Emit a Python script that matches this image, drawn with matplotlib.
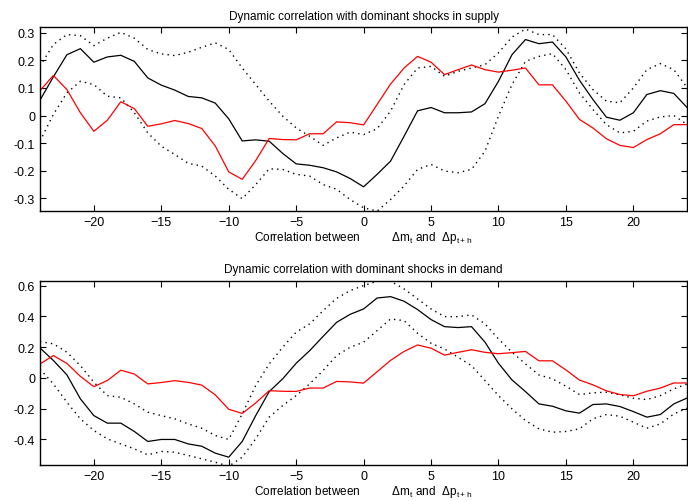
import numpy as np
import matplotlib
matplotlib.use("Agg")
import matplotlib.pyplot as plt

plt.rcParams['font.family'] = ['Liberation Sans Narrow', 'Liberation Sans', 'DejaVu Sans']
plt.rcParams['mathtext.fontset'] = 'custom'
plt.rcParams['mathtext.rm'] = 'Liberation Sans Narrow'
plt.rcParams['mathtext.default'] = 'regular'

lags = np.arange(-24, 25)

# red series (same in both panels)
red = [0.09, 0.145, 0.094, 0.01, -0.057, -0.017, 0.05, 0.025, -0.039, -0.03,
       -0.018, -0.029, -0.047, -0.11, -0.204, -0.231, -0.163, -0.083, -0.087, -0.088,
       -0.066, -0.066, -0.023, -0.026, -0.034, 0.04, 0.114, 0.172, 0.214, 0.193,
       0.148, 0.166, 0.183, 0.166, 0.157, 0.164, 0.172, 0.111, 0.111, 0.052,
       -0.014, -0.045, -0.084, -0.108, -0.116, -0.087, -0.066, -0.033, -0.033]

# supply shocks
sup_mid = [0.055, 0.14, 0.22, 0.242, 0.193, 0.212, 0.218, 0.196, 0.136, 0.11,
           0.092, 0.069, 0.064, 0.045, -0.012, -0.092, -0.088, -0.093, -0.137, -0.175,
           -0.18, -0.189, -0.204, -0.228, -0.258, -0.213, -0.165, -0.075, 0.017, 0.029,
           0.01, 0.01, 0.013, 0.043, 0.124, 0.22, 0.275, 0.26, 0.266, 0.212,
           0.128, 0.058, -0.006, -0.017, 0.01, 0.076, 0.09, 0.08, 0.028]
sup_hi = [0.178, 0.257, 0.293, 0.289, 0.253, 0.28, 0.301, 0.28, 0.239, 0.223,
          0.217, 0.229, 0.247, 0.263, 0.239, 0.172, 0.112, 0.052, -0.002, -0.045,
          -0.075, -0.108, -0.081, -0.06, -0.069, -0.048, 0.016, 0.112, 0.172, 0.178,
          0.142, 0.16, 0.172, 0.184, 0.227, 0.284, 0.313, 0.293, 0.293, 0.241,
          0.154, 0.094, 0.052, 0.046, 0.1, 0.166, 0.188, 0.166, 0.1]
sup_lo = [-0.093, 0.004, 0.082, 0.124, 0.112, 0.07, 0.064, 0.01, -0.063, -0.111,
          -0.141, -0.173, -0.183, -0.219, -0.267, -0.301, -0.25, -0.193, -0.195, -0.213,
          -0.219, -0.25, -0.267, -0.304, -0.334, -0.346, -0.304, -0.255, -0.195, -0.177,
          -0.201, -0.207, -0.195, -0.129, -0.002, 0.112, 0.196, 0.214, 0.224, 0.166,
          0.082, 0.022, -0.033, -0.063, -0.057, -0.02, -0.005, 0.0, -0.033]

# demand shocks
dem_mid = [0.195, 0.113, 0.02, -0.136, -0.245, -0.294, -0.294, -0.348, -0.413, -0.4,
           -0.4, -0.429, -0.444, -0.489, -0.515, -0.413, -0.245, -0.089, -0.006, 0.095,
           0.177, 0.27, 0.361, 0.413, 0.448, 0.519, 0.528, 0.498, 0.444, 0.379,
           0.333, 0.327, 0.333, 0.232, 0.095, -0.013, -0.089, -0.169, -0.184, -0.214,
           -0.229, -0.173, -0.169, -0.186, -0.219, -0.255, -0.238, -0.169, -0.13]
dem_hi = [0.236, 0.221, 0.167, 0.08, -0.028, -0.115, -0.126, -0.169, -0.223, -0.245,
          -0.266, -0.299, -0.327, -0.374, -0.4, -0.234, -0.05, 0.091, 0.199, 0.297,
          0.351, 0.437, 0.517, 0.567, 0.6, 0.628, 0.628, 0.578, 0.513, 0.448,
          0.398, 0.398, 0.409, 0.351, 0.253, 0.167, 0.091, 0.019, -0.006, -0.054,
          -0.108, -0.097, -0.093, -0.11, -0.132, -0.141, -0.115, -0.071, -0.039]
dem_lo = [0.058, -0.039, -0.158, -0.266, -0.342, -0.396, -0.429, -0.461, -0.5, -0.478,
          -0.483, -0.504, -0.526, -0.548, -0.574, -0.515, -0.396, -0.255, -0.18, -0.115,
          -0.039, 0.048, 0.145, 0.199, 0.232, 0.307, 0.383, 0.372, 0.29, 0.225,
          0.188, 0.134, 0.08, -0.017, -0.115, -0.201, -0.277, -0.331, -0.353, -0.348,
          -0.331, -0.266, -0.238, -0.249, -0.288, -0.327, -0.299, -0.234, -0.197]

xlab = r'Correlation between          $\Delta m_t$ and  $\Delta p_{t+h}$'

fig = plt.figure(figsize=(6.88, 5.02), dpi=100)
ax1 = fig.add_axes([0.058, 0.578, 0.941, 0.366])
ax2 = fig.add_axes([0.058, 0.072, 0.941, 0.367])

panels = [
    (ax1, sup_mid, sup_hi, sup_lo, 'Dynamic correlation with dominant shocks in supply',
     (-0.345, 0.32), [-0.3, -0.2, -0.1, 0, 0.1, 0.2, 0.3]),
    (ax2, dem_mid, dem_hi, dem_lo, 'Dynamic correlation with dominant shocks in demand',
     (-0.565, 0.632), [-0.4, -0.2, 0, 0.2, 0.4, 0.6]),
]

for ax, mid, hi, lo, title, ylim, yt in panels:
    ax.plot(lags, hi, color='black', linestyle=(0, (1, 3)), linewidth=1.0)
    ax.plot(lags, lo, color='black', linestyle=(0, (1, 3)), linewidth=1.0)
    ax.plot(lags, mid, color='black', linewidth=0.9)
    ax.plot(lags, red, color='red', linewidth=0.9)
    ax.set_xlim(-24, 24)
    ax.set_ylim(*ylim)
    ax.set_xticks([-20, -15, -10, -5, 0, 5, 10, 15, 20])
    ax.set_yticks(yt)
    ax.set_yticklabels(['0' if v == 0 else ('%g' % v) for v in yt])
    ax.tick_params(direction='in', top=True, right=True, length=4, width=0.8)
    for lab in ax.get_xticklabels() + ax.get_yticklabels():
        lab.set_family(['Liberation Sans', 'DejaVu Sans'])
        lab.set_fontsize(9)
    ax.set_title(title, fontsize=8.5, pad=6)
    ax.set_xlabel(xlab, fontsize=8.5, labelpad=1)
    for s in ax.spines.values():
        s.set_linewidth(1.0)

fig.savefig('out.png', dpi=100)
